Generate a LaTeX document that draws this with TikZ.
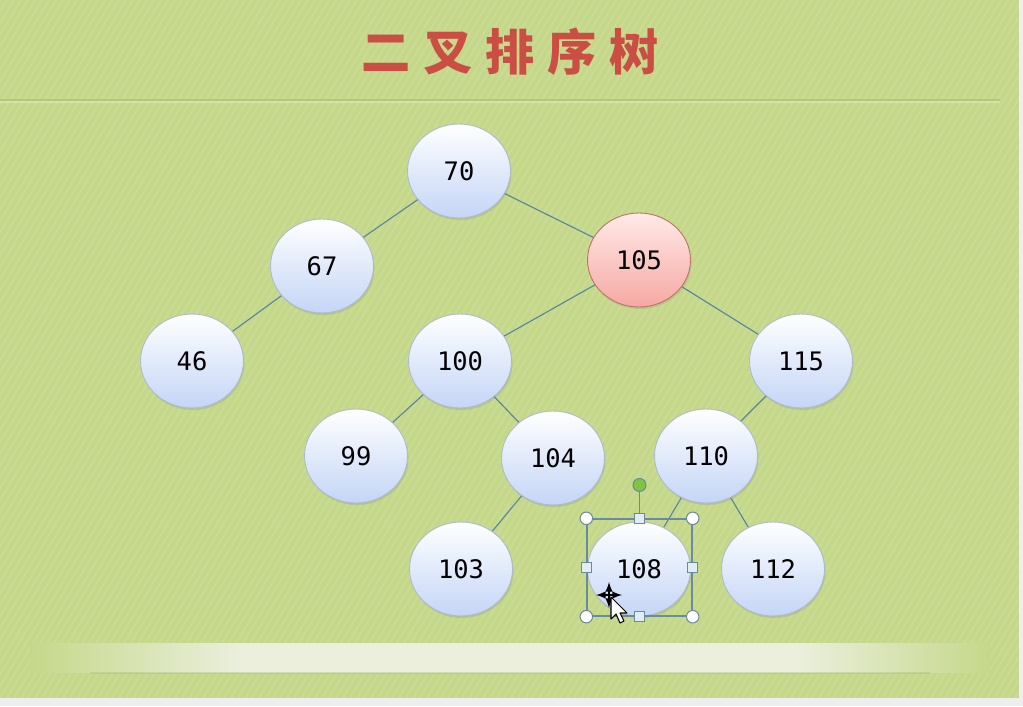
\documentclass[tikz,border=0pt]{standalone}
\usepackage{fontspec}
\usepackage{tikz}
\usetikzlibrary{shapes.geometric,shadows,arrows}
\newfontfamily\cjkfont{Noto Sans CJK SC}
\newfontfamily\numfont{DejaVu Sans Mono}
\definecolor{slide}{RGB}{197,216,138}
\definecolor{pagegray}{RGB}{238,238,238}
\definecolor{bandhi}{RGB}{235,239,220}
\definecolor{ruledark}{RGB}{166,186,104}
\definecolor{banddark}{RGB}{160,180,100}
\definecolor{edgeblue}{RGB}{88,134,162}
\definecolor{keyline}{RGB}{172,186,206}
\definecolor{keybot}{RGB}{196,213,246}
\definecolor{hittop}{RGB}{255,234,232}
\definecolor{hitbot}{RGB}{246,168,162}
\definecolor{hitline}{RGB}{192,112,100}
\definecolor{titlered}{RGB}{202,78,68}
\definecolor{handle}{RGB}{106,138,158}
\definecolor{handlefill}{RGB}{226,236,244}
\definecolor{rotgreen}{RGB}{128,196,64}
\pgfdeclarelayer{bg}
\pgfdeclarelayer{links}
\pgfsetlayers{bg,links,main}
\pgfdeclarehorizontalshading{band}{100bp}{color(0bp)=(slide); color(25bp)=(slide); color(36bp)=(bandhi); color(65bp)=(bandhi); color(75bp)=(slide); color(100bp)=(slide)}

\begin{document}
\begin{tikzpicture}[x=0.02cm,y=-0.02cm,
  key/.style={ellipse,draw=keyline,line width=0.5pt,top color=white,bottom color=keybot,
    minimum width=2.06cm,minimum height=1.88cm,inner sep=0pt,
    font=\numfont\fontsize{14.5}{18}\selectfont,
    drop shadow={opacity=0.22,shadow xshift=0.6pt,shadow yshift=-1.2pt}},
  hit/.style={key,draw=hitline,top color=hittop,bottom color=hitbot},
  link/.style={draw=edgeblue,line width=0.65pt},
  cornerh/.style={circle,draw=handle,fill=white,line width=0.6pt,minimum size=0.25cm,inner sep=0pt},
  sideh/.style={rectangle,draw=handle,fill=handlefill,line width=0.6pt,minimum size=0.19cm,inner sep=0pt}]

 \useasboundingbox (0,0) rectangle (1023,706);
 \begin{pgfonlayer}{bg}
  \fill[pagegray] (0,0) rectangle (1023,706);
  \fill[slide] (0,0) rectangle (1019,698);
  \begin{scope}
   \clip (0,0) rectangle (1019,698);
   \foreach \i in {-420,-413,...,1019}
    \draw[white,opacity=0.09,line width=1.1pt] (\i,698) -- ++(420,-698);
  \end{scope}
  \draw[ruledark,opacity=0.55,line width=0.7pt] (0,100) -- (1000,100);%header rule
  \draw[white,opacity=0.25,line width=0.6pt] (0,102) -- (1000,102);
  \shade[shading=band] (30,643) rectangle (990,672);%bottom strip
  \draw[banddark,opacity=0.3,line width=1.2pt] (90,673) -- (930,673);
 \end{pgfonlayer}

 \node (title) at (510,52) {\cjkfont\bfseries\fontsize{28}{32}\selectfont\color{titlered}%
   二\hspace{0.26cm}叉\hspace{0.26cm}排\hspace{0.26cm}序\hspace{0.26cm}树};

 \node (70)  [key] at (459,171) {70};
 \node (67)  [key] at (322,266) {67};
 \node (105) [hit] at (639,260) {105};
 \node (46)  [key] at (192,361) {46};
 \node (100) [key] at (460,361) {100};
 \node (115) [key] at (801,361) {115};
 \node (99)  [key] at (356,456) {99};
 \node (104) [key] at (553,458) {104};
 \node (110) [key] at (706,456) {110};
 \node (103) [key] at (461,569) {103};
 \node (108) [key] at (639,569) {108};
 \node (112) [key] at (773,569) {112};

 \begin{pgfonlayer}{links}
  \foreach \a/\b in {70/67,70/105,67/46,105/100,105/115,100/99,100/104,115/110,104/103,110/108,110/112}
   \draw[link] (\a.center) -- (\b.center);
 \end{pgfonlayer}

 % selection frame on 108
 \node (sel) [draw=handle,line width=0.8pt,minimum width=2.1cm,minimum height=1.94cm] at (639.5,567.5) {};
 \node (rot) [circle,draw=handle,fill=rotgreen,line width=0.6pt,minimum size=0.26cm,inner sep=0pt] at (639.5,485) {};
 \draw[handle,line width=0.8pt] (rot) -- (sel.north);
 \foreach \a [count=\i] in {north west,north east,south west,south east}
  \node (c\i) [cornerh] at (sel.\a) {};
 \foreach \a [count=\i] in {north,south,east,west}
  \node (s\i) [sideh] at (sel.\a) {};

 % mouse cursor
 \coordinate (cur) at (609,595);
 \begin{scope}[shift={(cur)},black,line width=0.9pt]
  \draw (-8,0) -- (8,0) (0,-8) -- (0,8);
  \foreach \d in {0,90,180,270}
   \draw[-latex,rotate=\d] (5,0) -- (13,0);
 \end{scope}
 \draw[black,fill=white,line width=0.6pt,line join=round,shift={(611,597)}]
  (0,0) -- (0,22) -- (5,17) -- (9,26) -- (13,24) -- (9,16) -- (16,16) -- cycle;
\end{tikzpicture}
\end{document}
